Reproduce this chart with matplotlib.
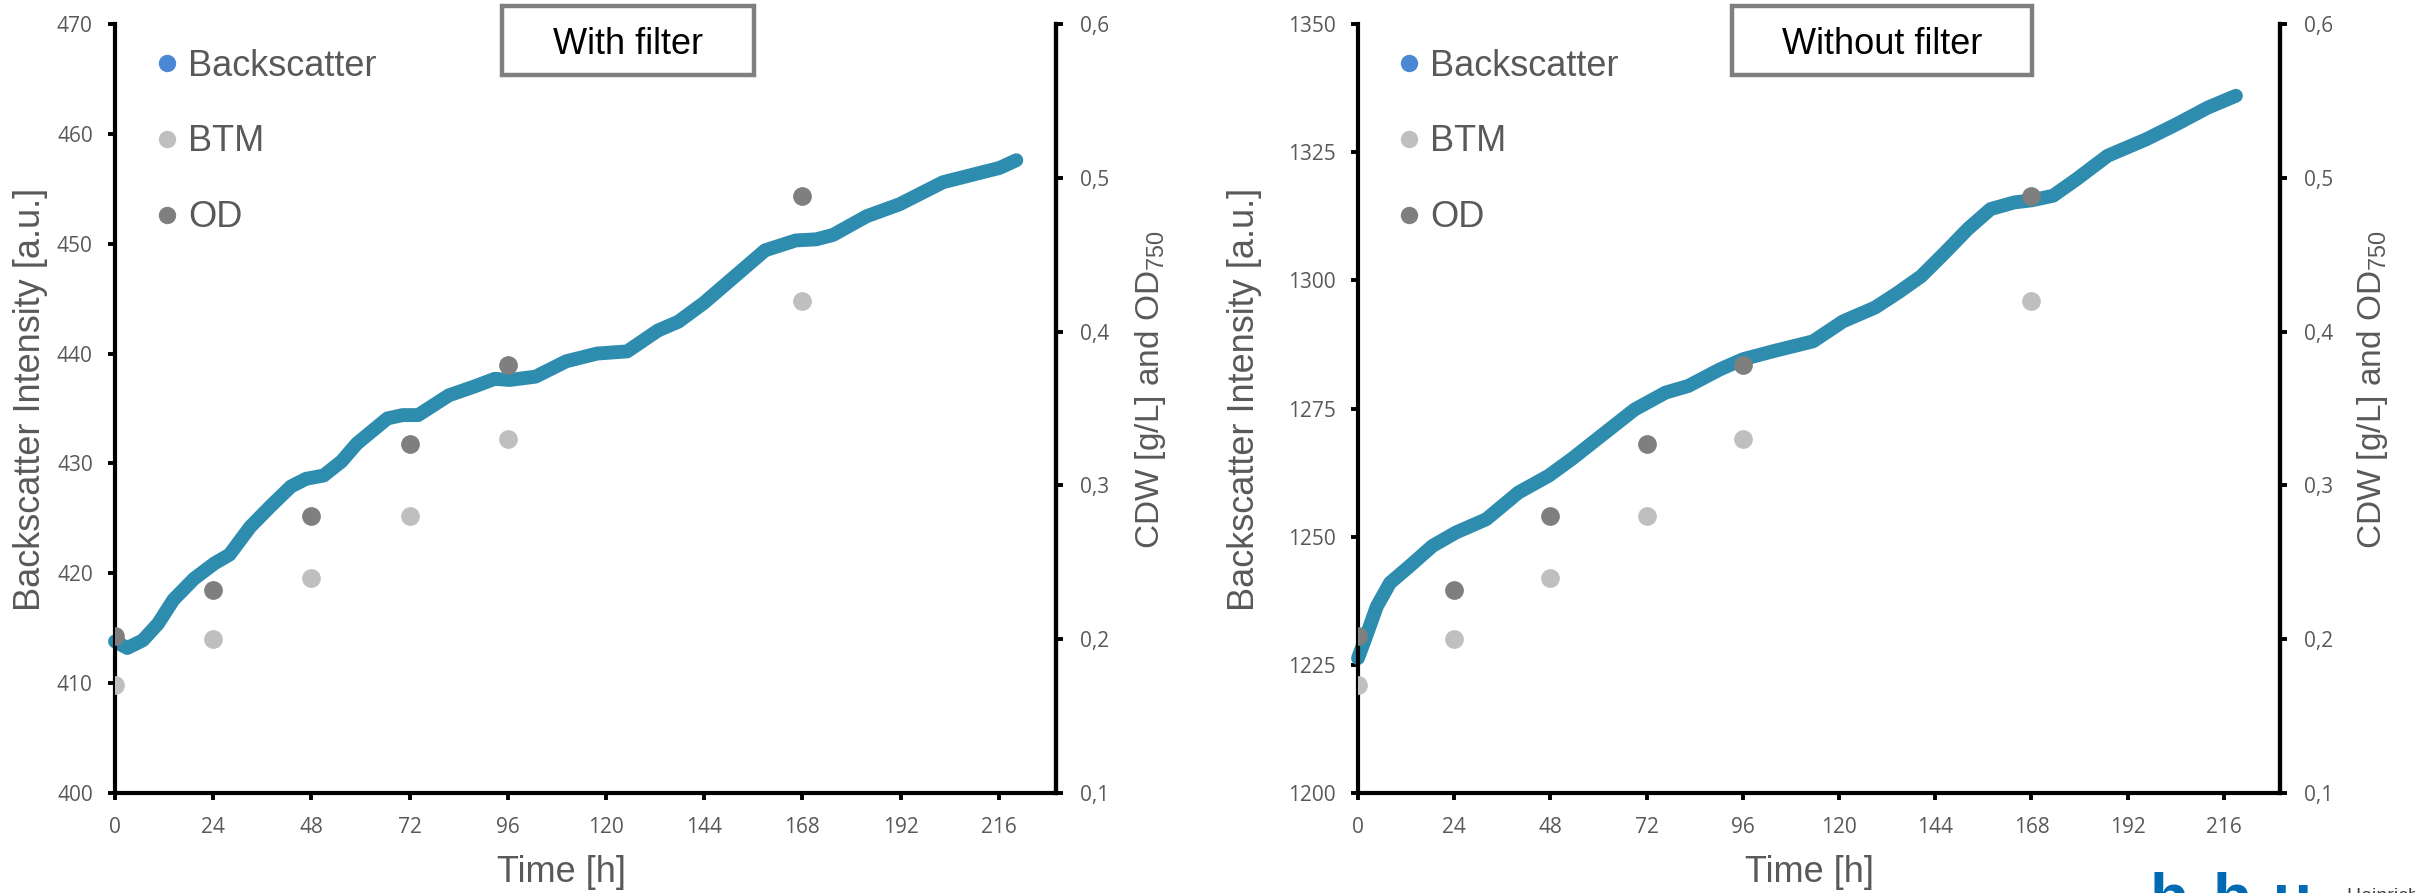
import matplotlib
matplotlib.use("Agg")
import matplotlib.pyplot as plt
from matplotlib.lines import Line2D
from matplotlib.patches import Rectangle

# sampling times of the offline measurements [h]
t_samples = [0, 24, 48, 72, 96, 168]
btm = [0.17, 0.20, 0.24, 0.28, 0.33, 0.42]
od = [0.202, 0.232, 0.28, 0.327, 0.378, 0.488]

# backscatter, with filter
t_wf = [0, 3, 6.8, 10.5, 14.3, 19.3, 24.3, 28, 33, 38, 43, 46.7, 51, 55.4, 59.1,
        66.6, 70.3, 74.1, 81.6, 87.8, 92.8, 96.5, 102.8, 110.3, 117.8, 125.2,
        132.7, 137.7, 143.9, 151.4, 158.9, 166.4, 171.4, 175.5, 183.7, 191.8,
        202.4, 216.2, 220.3]
bs_wf = [413.8, 413.2, 413.9, 415.4, 417.6, 419.5, 420.9, 421.7, 424.2, 426.1,
         427.9, 428.6, 428.9, 430.2, 431.8, 434.1, 434.4, 434.4, 436.2, 437.0,
         437.7, 437.6, 437.9, 439.3, 440.0, 440.2, 442.1, 442.9, 444.6, 447.0,
         449.4, 450.3, 450.4, 450.8, 452.5, 453.6, 455.6, 456.9, 457.6]

# backscatter, without filter
t_nf = [0, 2, 4.7, 8, 12.8, 18.6, 24.4, 32, 40, 47.6, 53.4, 62, 69, 76.7, 82.4,
        90.2, 96, 103.7, 113.5, 121, 129, 134.7, 140.5, 146.4, 152.1, 157.8,
        163.7, 168, 173.4, 179.2, 187, 196.6, 204.3, 212, 219]
bs_nf = [1226.3, 1230.5, 1236.4, 1241, 1244.2, 1248.2, 1250.8, 1253.4, 1258.6,
         1261.9, 1265.2, 1270.5, 1274.8, 1278.1, 1279.4, 1282.6, 1284.6, 1286.2,
         1288.1, 1292, 1294.7, 1297.6, 1300.8, 1305.4, 1310, 1313.9, 1315.2,
         1315.6, 1316.5, 1319.7, 1324.3, 1327.5, 1330.5, 1333.7, 1336]

x_ticks = [0, 24, 48, 72, 96, 120, 144, 168, 192, 216]
right_ticks = [0.1, 0.2, 0.3, 0.4, 0.5, 0.6]
right_labels = ["0,1", "0,2", "0,3", "0,4", "0,5", "0,6"]

plt.rcParams['font.family'] = 'Open Sans'
plt.rcParams['mathtext.fontset'] = 'custom'
plt.rcParams['mathtext.rm'] = 'Liberation Sans'

LINE = '#2E8DAE'
LEG_BLUE = '#4A88D4'
BTM_C = '#BFBFBF'
OD_C = '#7F7F7F'
TXT = '#595959'
LAB = 'Liberation Sans'

fig = plt.figure(figsize=(24.15, 8.93), dpi=100)


def panel(rect, t, bs, ylim, yticks, title, box, ylab_x):
    ax = fig.add_axes(rect)
    ax.plot(t, bs, color=LINE, lw=10, solid_capstyle='round',
            solid_joinstyle='round', clip_on=False, zorder=2)
    ax.set_xlim(0, 230)
    ax.set_ylim(*ylim)
    ax.set_xticks(x_ticks)
    ax.set_yticks(yticks)
    ax2 = ax.twinx()
    ax2.plot(t_samples, btm, 'o', color=BTM_C, ms=13.5, mec='none', zorder=3)
    ax2.plot(t_samples, od, 'o', color=OD_C, ms=13.5, mec='none', zorder=3)
    ax2.set_ylim(0.1, 0.6)
    ax2.set_yticks(right_ticks)
    ax2.set_yticklabels(right_labels)
    for a in (ax, ax2):
        a.spines['top'].set_visible(False)
        for s in a.spines.values():
            s.set_linewidth(3)
            s.set_color('black')
        a.tick_params(length=5, width=2.8, labelsize=15, labelcolor=TXT)
    ax.tick_params(axis='y', pad=11)
    ax.tick_params(axis='x', pad=12)
    ax2.tick_params(axis='y', pad=12)
    ax2.spines['left'].set_visible(False)
    ax2.spines['bottom'].set_visible(False)

    ax.set_ylabel('Backscatter Intensity [a.u.]', family=LAB, fontsize=26,
                  color=TXT, va='center')
    ax.yaxis.set_label_coords(ylab_x, 0.512)
    ax2.set_ylabel(r'CDW [g/L] and OD$_{\mathrm{750}}$', family=LAB,
                   fontsize=24, color=TXT, va='center', rotation=90)
    ax2.yaxis.set_label_coords(1.10, 0.524)
    ax.set_xlabel('Time [h]', family=LAB, fontsize=26, color=TXT, va='top')

    x0, w, tx = box
    ax2.add_patch(Rectangle((x0, 0.934), w, 0.089, transform=ax2.transAxes,
                            facecolor='white', edgecolor='#7F7F7F', lw=3.2,
                            clip_on=False, zorder=5))
    ax2.text(tx, 0.973, title, transform=ax2.transAxes, ha='center',
             va='center', family=LAB, fontsize=26, color='black', zorder=6)

    handles = [Line2D([], [], ls='none', marker='o', ms=12.5, mec='none', color=c)
               for c in (LEG_BLUE, BTM_C, OD_C)]
    leg = ax2.legend(handles, ['Backscatter', 'BTM', 'OD'], loc='upper left',
                     bbox_to_anchor=(0.0436, 0.968), frameon=False,
                     borderpad=0, borderaxespad=0, handlelength=0.6,
                     handletextpad=0.29, labelspacing=1.13,
                     prop={'family': LAB, 'size': 26})
    for txt in leg.get_texts():
        txt.set_color(TXT)
    return ax


ax_a = panel([0.04762, 0.11198, 0.38965, 0.86114], t_wf, bs_wf, (400, 470),
             [400, 410, 420, 430, 440, 450, 460, 470], 'With filter',
             (0.4113, 0.2678, 0.5452), -0.090)
ax_a.xaxis.set_label_coords(0.474, -0.080)

ax_b = panel([0.56232, 0.11198, 0.38178, 0.86114], t_nf, bs_nf, (1200, 1350),
             [1200, 1225, 1250, 1275, 1300, 1325, 1350], 'Without filter',
             (0.4056, 0.3254, 0.568), -0.1226)
ax_b.xaxis.set_label_coords(0.490, -0.080)

# university logo, cut off at the lower edge as in the original slide
for letter, lx in zip('hhu', [0.8901, 0.9162, 0.9410]):
    fig.text(lx, -0.0287, letter, family=LAB, fontsize=46, weight='bold',
             color='#006AB3')
fig.text(0.972, -0.009, 'Heinrich Heine', family=LAB, fontsize=14,
         color='#404040')

fig.savefig('out.png', dpi=100)
